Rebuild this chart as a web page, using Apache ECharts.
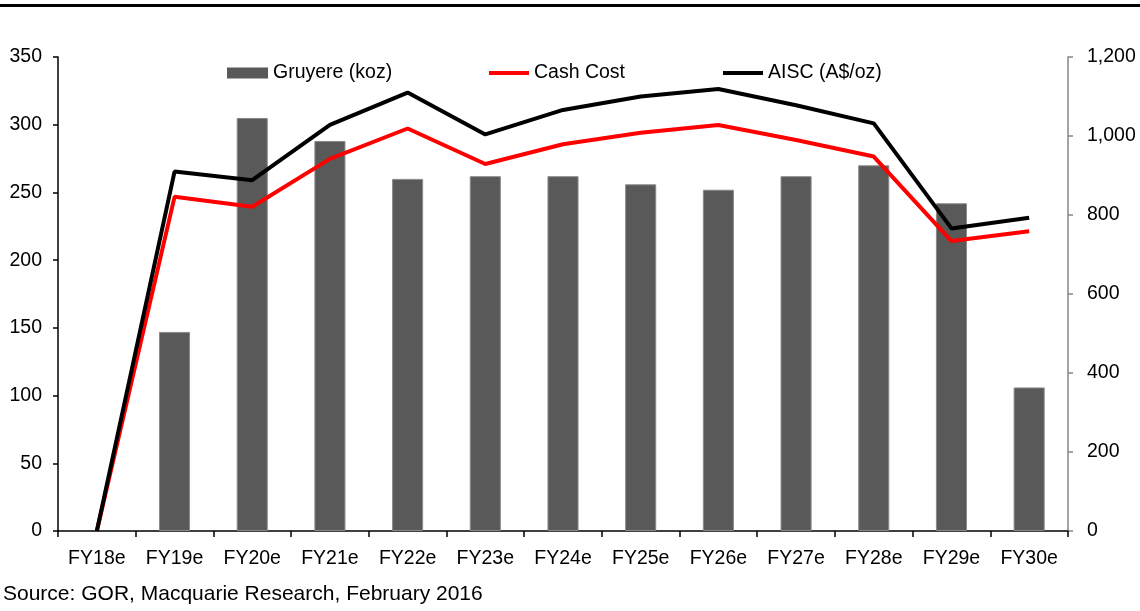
<!DOCTYPE html>
<html>
<head>
<meta charset="utf-8">
<script src="https://cdn.jsdelivr.net/npm/echarts@6/dist/echarts.min.js"></script>
<style>
  html, body { margin: 0; padding: 0; background: #fff; }
  #chart { width: 1140px; height: 611px; }
</style>
</head>
<body>
<div id="chart"></div>
<script>
// Fiscal years on the category axis
const years = ['FY18e', 'FY19e', 'FY20e', 'FY21e', 'FY22e', 'FY23e', 'FY24e',
               'FY25e', 'FY26e', 'FY27e', 'FY28e', 'FY29e', 'FY30e'];
// Gold production, koz (left axis)
const gruyereKoz = [0, 147, 305, 288, 260, 262, 262, 256, 252, 262, 270, 242, 106];
// Cash cost, A$/oz (right axis)
const cashCost = [0, 846, 821, 942, 1019, 929, 979, 1008, 1028, 990, 948, 734, 759];
// All-in sustaining cost, A$/oz (right axis)
const aisc = [0, 910, 888, 1028, 1110, 1004, 1066, 1100, 1119, 1078, 1032, 766, 793];

const FONT = '"Liberation Sans", Arial, sans-serif';
const textBase = { fontFamily: FONT, fontSize: 19.5, color: '#000' };

const chart = echarts.init(document.getElementById('chart'), null, { renderer: 'canvas' });

// zero-height bars get no outline so nothing shows on the axis
const barData = gruyereKoz.map(v => (v === 0 ? { value: v, itemStyle: { borderWidth: 0 } } : v));

chart.setOption({
  animation: false,
  backgroundColor: '#fff',
  grid: { left: 58, right: 72, top: 57, bottom: 80, containLabel: false },
  legend: [
    {
      data: [{ name: 'Gruyere (koz)', icon: 'rect' }],
      left: 227, top: 63, padding: 0, itemWidth: 41, itemHeight: 11,
      itemStyle: { borderWidth: 0 },
      textStyle: textBase, selectedMode: false
    },
    {
      data: [{ name: 'Cash Cost', icon: 'rect' }],
      left: 489, top: 63, padding: 0, itemWidth: 40, itemHeight: 4,
      textStyle: textBase, selectedMode: false
    },
    {
      data: [{ name: 'AISC (A$/oz)', icon: 'rect' }],
      left: 723, top: 63, padding: 0, itemWidth: 40, itemHeight: 4,
      textStyle: textBase, selectedMode: false
    }
  ],
  xAxis: {
    type: 'category',
    data: years,
    boundaryGap: true,
    axisLine: { lineStyle: { color: '#000', width: 1.5 } },
    axisTick: { show: true, length: 6, alignWithLabel: false, lineStyle: { color: '#000', width: 1.5 } },
    axisLabel: Object.assign({ margin: 18, interval: 0 }, textBase),
    splitLine: { show: false }
  },
  yAxis: [
    {
      type: 'value', min: 0, max: 350, interval: 50, position: 'left',
      axisLine: { show: true, lineStyle: { color: '#000', width: 1.5 } },
      axisTick: { show: true, length: 5, lineStyle: { color: '#000', width: 1.5 } },
      axisLabel: Object.assign({ margin: 16 }, textBase),
      splitLine: { show: false }
    },
    {
      type: 'value', min: 0, max: 1200, interval: 200, position: 'right',
      axisLine: { show: true, lineStyle: { color: '#868686', width: 1.5 } },
      axisTick: { show: true, length: 5, lineStyle: { color: '#868686', width: 1.5 } },
      axisLabel: Object.assign({
        margin: 19,
        formatter: v => v.toLocaleString('en-US')
      }, textBase),
      splitLine: { show: false }
    }
  ],
  series: [
    {
      name: 'Gruyere (koz)', type: 'bar', yAxisIndex: 0, data: barData,
      barWidth: '40%',
      itemStyle: { color: '#595959', borderColor: '#8a8a8a', borderWidth: 1 },
      z: 2
    },
    {
      name: 'Cash Cost', type: 'line', yAxisIndex: 1, data: cashCost,
      showSymbol: false, symbol: 'none',
      lineStyle: { color: '#ff0000', width: 4 }, itemStyle: { color: '#ff0000' },
      z: 3
    },
    {
      name: 'AISC (A$/oz)', type: 'line', yAxisIndex: 1, data: aisc,
      showSymbol: false, symbol: 'none',
      lineStyle: { color: '#000000', width: 4 }, itemStyle: { color: '#000000' },
      z: 4
    }
  ],
  graphic: [
    {
      type: 'line', silent: true,
      shape: { x1: 0, y1: 5.5, x2: 1140, y2: 5.5 },
      style: { stroke: '#000', lineWidth: 3 }
    },
    {
      type: 'text', silent: true, left: 3, top: 584,
      style: { text: 'Source: GOR, Macquarie Research, February 2016', font: '21px ' + FONT, fill: '#000' }
    }
  ]
});
</script>
</body>
</html>
